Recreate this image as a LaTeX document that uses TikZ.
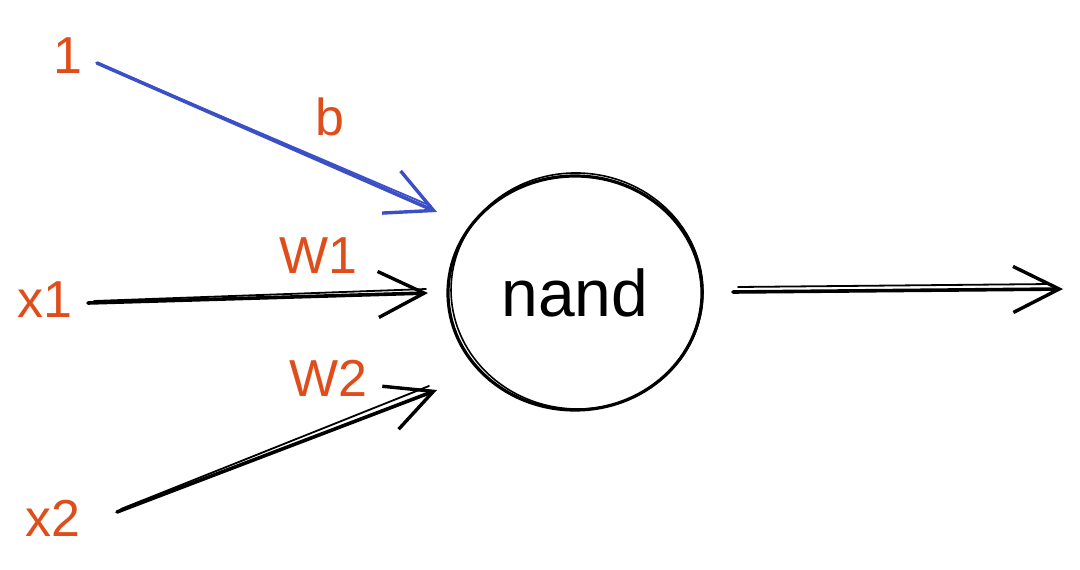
\documentclass[tikz,border=0pt]{standalone}
\usepackage{fontspec}
\setmainfont{Liberation Sans}
\usetikzlibrary{arrows.meta,shapes.geometric}
\definecolor{lbl}{HTML}{DF4E1A}
\definecolor{bias}{HTML}{3B50C6}
\tikzset{
  lab/.style={text=lbl, font=\fontsize{52}{60}\selectfont, inner sep=0pt, anchor=center},
  conn/.style={line width=3.6pt, line cap=round, -{Straight Barb[length=46pt, width=46pt, line width=3.4pt]}},
  sketch/.style={line width=1.8pt, line cap=round},
  neuron/.style={ellipse, draw, line width=3.2pt, minimum width=254pt, minimum height=234pt,
    font=\fontsize{66}{76}\selectfont, inner sep=0pt}
}
\begin{document}
\begin{tikzpicture}[x=1pt,y=-1pt]
\useasboundingbox (0,0) rectangle (1080,570);
% neuron
\node[neuron] (nand) at (575,293) {nand};
\draw[line width=1.6pt] (577,291) ellipse [x radius=126, y radius=118, rotate=-4];
% labels
\node[lab] (one) at (68,56) {1};
\node[lab] (b) at (330,117) {b};
\node[lab] (w1) at (318,256) {W1};
\node[lab] (x1) at (45,300) {x1};
\node[lab] (w2) at (328,378) {W2};
\node[lab] (x2) at (53,518) {x2};
% connector endpoints
\coordinate (bs) at (97,63);
\coordinate (be) at (437,212);
\coordinate (x1s) at (88,303);
\coordinate (x1e) at (428,293);
\coordinate (x2s) at (117,512);
\coordinate (x2e) at (437,390);
\coordinate (os) at (733,292);
\coordinate (oe) at (1063,289);
% connectors
\draw[conn, bias] (bs) -- (be);
\draw[sketch, bias] (bs) -- ([shift={(-6,-6)}]be);
\draw[conn] (x1s) -- (x1e);
\draw[sketch] ([shift={(6,-2)}]x1s) -- ([shift={(-2,-4)}]x1e);
\draw[conn] (x2s) -- (x2e);
\draw[sketch] ([shift={(4,-3)}]x2s) -- ([shift={(-8,-4)}]x2e);
\draw[conn] (os) -- (oe);
\draw[sketch] ([shift={(5,-5)}]os) -- ([shift={(-12,-5)}]oe);
\end{tikzpicture}
\end{document}
